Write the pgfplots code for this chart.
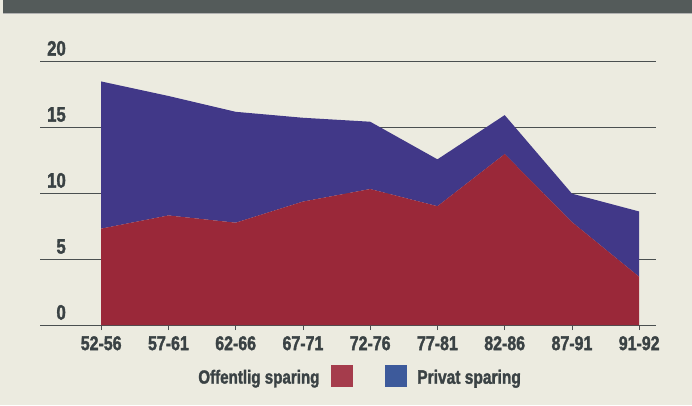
\documentclass[border=0pt]{standalone}
\usepackage{pgfplots}
\pgfplotsset{compat=1.18}
\usepackage{fontspec}
\setmainfont{Liberation Sans}
\newfontfamily\cond{Liberation Sans}[FakeStretch=0.80, BoldFeatures={FakeBold=1.6}]
\definecolor{bg}{HTML}{ECEBE0}
\definecolor{topbar}{HTML}{545B5A}
\definecolor{gridc}{HTML}{4A4F50}
\definecolor{txt}{HTML}{3A4244}
\definecolor{redA}{HTML}{9A2839}
\definecolor{blueA}{HTML}{413888}
\definecolor{redL}{HTML}{A53C4C}
\definecolor{blueL}{HTML}{3D5A9B}
\begin{document}
\begin{tikzpicture}[x=1bp,y=1bp]
\fill[bg] (0,0) rectangle (692,405);
\useasboundingbox (0,0) rectangle (692,405);
\fill[topbar] (3,391) rectangle (692,405);
\draw[gray!60, line width=1bp] (3,391.5) -- (692,391.5);
\begin{axis}[
  at={(40bp,80bp)}, anchor=south west,
  scale only axis, width=616bp, height=264bp,
  xmin=-0.91, xmax=8.25, ymin=0, ymax=20,
  stack plots=y,
  axis x line*=bottom, axis y line*=left,
  x axis line style={draw=gridc, line width=0.9bp},
  y axis line style={draw=none},
  ytick={0,5,10,15,20},
  ymajorgrids, grid style={draw=gridc, line width=0.9bp},
  xtick={0,1,2,3,4,5,6,7,8},
  xticklabels={52-56,57-61,62-66,67-71,72-76,77-81,82-86,87-91,91-92},
  tick align=outside, major tick length=5bp,
  xtick style={draw=gridc, line width=0.8bp},
  ytick style={draw=none},
  /pgf/number format/assume math mode=true,
  xticklabel style={font=\cond\bfseries\fontsize{20}{20}\selectfont, text=txt, inner sep=0pt, yshift=-6bp},
  yticklabel style={font=\cond\bfseries\fontsize{21}{21}\selectfont, text=txt, anchor=south east, inner sep=0pt, xshift=31bp, yshift=5bp},
  legend columns=3,
  legend style={at={(0.234,-0.193)}, anchor=west, draw=none, fill=none,
    font=\cond\bfseries\fontsize{19}{19}\selectfont, text=txt,
    nodes={inner sep=0pt},
    /tikz/every odd column/.append style={column sep=11bp},
    /tikz/every even column/.append style={column sep=12bp}},
  legend cell align=left,
]
\addplot[fill=redA, draw=none, forget plot] coordinates {
 (0,7.3) (1,8.3) (2,7.75) (3,9.35) (4,10.3) (5,9.0) (6,12.95) (7,7.8) (8,3.65)} \closedcycle;
\addplot[fill=blueA, draw=none, forget plot] coordinates {
 (0,11.15) (1,9.05) (2,8.4) (3,6.35) (4,5.1) (5,3.55) (6,2.95) (7,2.15) (8,4.95)} \closedcycle;
\addlegendimage{empty legend}
\addlegendentry{Offentlig sparing}
\addlegendimage{legend image code/.code={\fill[redL] (0bp,-9bp) rectangle (21bp,12bp);}}
\addlegendentry{\hspace*{9bp}}
\addlegendimage{legend image code/.code={\fill[blueL] (0bp,-9bp) rectangle (21bp,12bp);}}
\addlegendentry{\fontsize{19.5}{19.5}\selectfont Privat sparing}
\end{axis}
\end{tikzpicture}
\end{document}
